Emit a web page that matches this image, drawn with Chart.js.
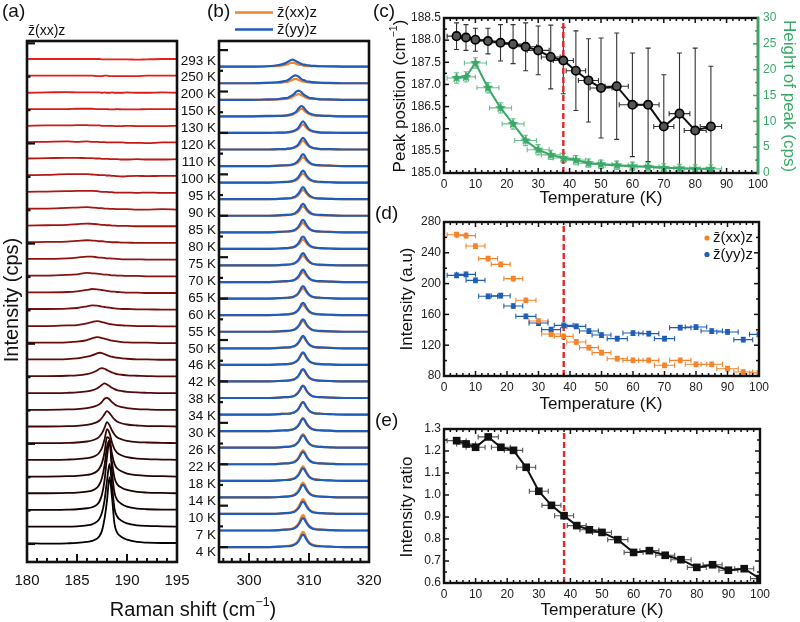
<!DOCTYPE html>
<html><head><meta charset="utf-8">
<script src="https://cdn.jsdelivr.net/npm/chart.js@4.4.0/dist/chart.umd.min.js"></script>
<style>
html,body{margin:0;padding:0;background:#fff;width:800px;height:622px;overflow:hidden}
canvas{position:absolute;left:0;top:0}
</style></head><body>
<canvas id="ca" width="800" height="622"></canvas>
<canvas id="cb" width="800" height="622"></canvas>
<canvas id="cc" width="800" height="622"></canvas>
<canvas id="cd" width="800" height="622"></canvas>
<canvas id="ce" width="800" height="622"></canvas>
<script>
// ================= DATA =================
const temps = [4,7,10,14,18,22,26,30,34,38,42,46,50,55,60,65,70,75,80,85,90,95,100,110,120,130,150,200,250,293];

// panel (a): Raman shift grid (cm-1) and spectra above each baseline (cps), z(xx)z
const ramanA = [180,182,184,185,186,186.5,187,187.25,187.5,187.75,188,188.25,188.5,188.75,189,189.5,190,191,192,193.5,195];
const spectraA = [
 [0.2,0.1,0.2,0.3,0.6,0.9,1.6,2.4,4,7.5,13,20,14,6,3.5,2,1.3,0.6,0.4,0.3,0.3],
 [0.2,0.2,0.2,0.3,0.6,0.9,1.7,2.6,4.4,8,14,19,12.5,5.6,3.3,1.9,1.2,0.6,0.4,0.3,0.2],
 [0.2,0.2,0.3,0.4,0.7,1.0,1.8,2.8,4.8,9,16,21,11.5,5.4,3.3,1.9,1.2,0.6,0.4,0.3,0.3],
 [0.2,0.2,0.3,0.4,0.7,1.0,1.9,2.9,4.8,8.5,14,16,9.5,4.8,3.0,1.8,1.2,0.6,0.4,0.3,0.2],
 [0.2,0.2,0.3,0.4,0.7,1.0,1.8,2.7,4.3,7.4,12,11.5,7,4,2.7,1.7,1.1,0.6,0.4,0.3,0.2],
 [0.2,0.2,0.3,0.4,0.7,1.0,1.7,2.5,3.8,6.2,9.4,8.2,5.4,3.4,2.4,1.5,1.0,0.6,0.4,0.3,0.2],
 [0.2,0.2,0.3,0.4,0.7,1.0,1.6,2.2,3.2,4.8,6.5,5.6,4.0,2.8,2.0,1.3,0.9,0.5,0.4,0.3,0.2],
 [0.2,0.2,0.3,0.4,0.7,1.0,1.5,2.0,2.8,3.9,4.8,4.2,3.2,2.3,1.7,1.1,0.8,0.5,0.3,0.3,0.2],
 [0.2,0.2,0.3,0.4,0.7,1.0,1.5,1.9,2.6,3.5,3.8,3.3,2.5,1.9,1.4,1.0,0.7,0.4,0.3,0.2,0.2],
 [0.2,0.2,0.3,0.4,0.7,1.0,1.6,2.1,2.7,3.1,2.8,2.3,1.8,1.4,1.1,0.8,0.6,0.4,0.3,0.2,0.2],
 [0.3,0.3,0.4,0.5,0.9,1.3,2.0,2.5,2.7,2.5,2.1,1.7,1.4,1.1,0.9,0.7,0.5,0.4,0.3,0.2,0.2],
 [0.3,0.3,0.4,0.6,1.1,1.5,2.1,2.3,2.2,1.9,1.6,1.3,1.1,0.9,0.8,0.6,0.5,0.3,0.3,0.2,0.2],
 [0.3,0.3,0.4,0.6,1.1,1.6,2.0,1.9,1.7,1.5,1.3,1.1,0.9,0.8,0.7,0.5,0.4,0.3,0.3,0.2,0.2],
 [0.3,0.3,0.5,0.6,1.1,1.5,1.8,1.7,1.5,1.3,1.1,0.9,0.8,0.7,0.6,0.5,0.4,0.3,0.3,0.2,0.2],
 [0.4,0.4,0.5,0.7,1.2,1.5,1.4,1.3,1.1,1.0,0.9,0.8,0.7,0.6,0.5,0.4,0.4,0.3,0.3,0.2,0.2],
 [0.4,0.4,0.5,0.7,1.1,1.4,1.3,1.2,1.1,1.0,0.8,0.7,0.6,0.6,0.5,0.4,0.3,0.3,0.2,0.2,0.2],
 [0.4,0.4,0.6,0.8,1.2,1.1,1.0,0.9,0.8,0.7,0.7,0.6,0.5,0.5,0.4,0.4,0.3,0.3,0.2,0.2,0.2],
 [0.4,0.4,0.6,0.8,1.1,1.1,0.9,0.8,0.8,0.7,0.6,0.6,0.5,0.5,0.4,0.3,0.3,0.3,0.2,0.2,0.2],
 [0.4,0.5,0.6,0.8,1.0,0.9,0.8,0.7,0.7,0.6,0.5,0.5,0.4,0.4,0.4,0.3,0.3,0.2,0.2,0.2,0.2],
 [0.4,0.5,0.6,0.8,1.0,0.9,0.8,0.7,0.6,0.6,0.5,0.5,0.4,0.4,0.3,0.3,0.3,0.2,0.2,0.2,0.2],
 [0.5,0.5,0.7,0.8,0.9,0.8,0.7,0.6,0.6,0.5,0.5,0.4,0.4,0.4,0.3,0.3,0.3,0.2,0.2,0.3,0.2],
 [0.5,0.6,0.7,0.8,0.8,0.8,0.7,0.6,0.5,0.5,0.5,0.4,0.4,0.3,0.3,0.3,0.3,0.2,0.3,0.2,0.2],
 [0.5,0.6,0.8,0.8,0.8,0.7,0.6,0.5,0.5,0.5,0.4,0.4,0.3,0.3,0.2,0.1,0.2,0.3,0.2,0.3,0.3],
 [0.5,0.6,0.7,0.7,0.6,0.6,0.5,0.5,0.4,0.4,0.4,0.3,0.3,0.3,0.3,0.2,0.2,0.3,0.2,0.2,0.3],
 [0.4,0.5,0.6,0.5,0.6,0.5,0.5,0.4,0.4,0.4,0.3,0.3,0.3,0.3,0.3,0.3,0.2,0.2,0.1,0.3,0.3],
 [0.3,0.4,0.4,0.5,0.5,0.4,0.4,0.4,0.3,0.3,0.3,0.3,0.3,0.2,0.2,0.2,0.3,0.2,0.2,0.2,0.3],
 [0.3,0.3,0.3,0.4,0.4,0.4,0.3,0.3,0.3,0.3,0.3,0.2,0.2,0.2,0.3,0.2,0.2,0.2,0.3,0.3,0.3],
 [0.2,0.3,0.4,0.3,0.3,0.3,0.3,0.3,0.2,0.3,0.2,0.2,0.3,0.2,0.2,0.2,0.3,0.2,0.2,0.3,0.2],
 [0.3,0.3,0.3,0.3,0.3,0.3,0.2,0.2,0.2,0.3,0.3,0.2,0.2,0.2,0.2,0.2,0.2,0.2,0.3,0.3,0.3],
 [0.3,0.3,0.3,0.3,0.3,0.3,0.3,0.3,0.2,0.2,0.2,0.2,0.2,0.2,0.2,0.2,0.2,0.1,0.2,0.3,0.3]
];

// panel (b): Raman shift grid and spectra above each baseline
const ramanB = [295,300,303,305,306,306.5,307,307.25,307.5,307.75,308,308.25,308.5,308.75,309,309.25,309.5,310,310.5,311,312,313.5,316,320];
const spectraXXb = [
 [0,0,0,0.1,0.2,0.3,0.4,0.5,0.7,0.9,1.2,1.7,2.4,3.3,3.7,3.3,2.4,1.2,0.7,0.4,0.2,0.1,0,0],
 [0,0,0,0.1,0.2,0.3,0.4,0.5,0.7,0.9,1.2,1.7,2.4,3.3,3.7,3.3,2.4,1.2,0.7,0.4,0.2,0.1,0,0],
 [0,0,0,0.1,0.2,0.3,0.4,0.5,0.6,0.9,1.2,1.7,2.4,3.2,3.6,3.2,2.4,1.2,0.6,0.4,0.2,0.1,0,0],
 [0,0,0,0.1,0.2,0.3,0.4,0.5,0.6,0.9,1.2,1.7,2.4,3.2,3.6,3.2,2.4,1.2,0.6,0.4,0.2,0.1,0,0],
 [0,0,0,0.1,0.2,0.3,0.4,0.5,0.6,0.8,1.2,1.6,2.3,3.1,3.5,3.1,2.3,1.2,0.6,0.4,0.2,0.1,0,0],
 [0,0,0,0.1,0.2,0.2,0.4,0.5,0.6,0.8,1.1,1.6,2.3,3.0,3.4,3.0,2.3,1.1,0.6,0.4,0.2,0.1,0,0],
 [0,0,0,0.1,0.2,0.2,0.4,0.5,0.6,0.8,1.1,1.5,2.2,2.9,3.3,2.9,2.2,1.1,0.6,0.4,0.2,0.1,0,0],
 [0,0,0,0.1,0.2,0.2,0.3,0.4,0.6,0.8,1.1,1.5,2.1,2.8,3.2,2.8,2.1,1.1,0.6,0.3,0.2,0.1,0,0],
 [0,0,0,0.1,0.2,0.2,0.3,0.4,0.5,0.7,1.0,1.4,2.0,2.7,3.0,2.7,2.0,1.0,0.5,0.3,0.2,0.1,0,0],
 [0,0,0,0.1,0.2,0.2,0.3,0.4,0.5,0.7,1.0,1.4,1.9,2.6,2.9,2.6,1.9,1.0,0.5,0.3,0.2,0.1,0,0],
 [0,0,0,0.1,0.1,0.2,0.3,0.4,0.5,0.7,0.9,1.3,1.9,2.5,2.8,2.5,1.9,0.9,0.5,0.3,0.1,0.1,0,0],
 [0,0,0,0.1,0.1,0.2,0.3,0.4,0.5,0.7,0.9,1.3,1.9,2.5,2.8,2.5,1.9,0.9,0.5,0.3,0.1,0.1,0,0],
 [0,0,0,0.1,0.1,0.2,0.3,0.4,0.5,0.6,0.9,1.3,1.8,2.4,2.7,2.4,1.8,0.9,0.5,0.3,0.1,0.1,0,0],
 [0,0,0,0.1,0.1,0.2,0.3,0.4,0.5,0.6,0.9,1.2,1.7,2.3,2.6,2.3,1.7,0.9,0.5,0.3,0.1,0.1,0,0],
 [0,0,0,0.1,0.1,0.2,0.3,0.3,0.4,0.6,0.8,1.2,1.7,2.2,2.5,2.2,1.7,0.8,0.4,0.3,0.1,0.1,0,0],
 [0,0,0,0.1,0.1,0.2,0.3,0.3,0.4,0.6,0.8,1.2,1.7,2.2,2.5,2.2,1.7,0.8,0.4,0.3,0.1,0.1,0,0],
 [0,0,0,0.1,0.1,0.2,0.3,0.3,0.4,0.6,0.8,1.1,1.6,2.1,2.4,2.1,1.6,0.8,0.4,0.3,0.1,0.1,0,0],
 [0,0,0,0.1,0.1,0.2,0.3,0.3,0.4,0.6,0.8,1.1,1.6,2.1,2.4,2.1,1.6,0.8,0.4,0.3,0.1,0.1,0,0],
 [0,0,0,0.1,0.1,0.2,0.3,0.3,0.4,0.5,0.8,1.1,1.5,2.0,2.3,2.0,1.5,0.8,0.4,0.3,0.1,0.1,0,0],
 [0,0,0,0.1,0.1,0.2,0.3,0.3,0.4,0.5,0.8,1.1,1.5,2.0,2.3,2.0,1.5,0.8,0.4,0.3,0.1,0.1,0,0],
 [0,0,0,0.1,0.1,0.2,0.2,0.3,0.4,0.5,0.7,1.0,1.5,2.0,2.2,2.0,1.5,0.7,0.4,0.2,0.1,0.1,0,0],
 [0,0,0,0.1,0.1,0.2,0.2,0.3,0.4,0.5,0.7,1.0,1.5,2.0,2.2,2.0,1.5,0.7,0.4,0.2,0.1,0.1,0,0],
 [0,0,0,0.1,0.1,0.2,0.2,0.3,0.4,0.5,0.7,1.0,1.5,2.0,2.2,2.0,1.5,0.7,0.4,0.2,0.1,0.1,0,0],
 [0,0,0,0.1,0.1,0.2,0.2,0.3,0.4,0.5,0.7,1.0,1.4,1.9,2.1,1.9,1.4,0.7,0.4,0.2,0.1,0.1,0,0],
 [0,0,0,0.1,0.1,0.2,0.2,0.3,0.4,0.5,0.7,1.0,1.4,1.9,2.1,1.9,1.4,0.7,0.4,0.2,0.1,0.1,0,0],
 [0,0,0,0.1,0.1,0.1,0.2,0.3,0.4,0.5,0.7,0.9,1.3,1.8,2.0,1.8,1.3,0.7,0.4,0.2,0.1,0,0,0],
 [0,0,0,0.1,0.2,0.2,0.3,0.4,0.6,0.8,1.0,1.3,1.7,1.8,1.7,1.3,1.0,0.6,0.3,0.2,0.1,0.1,0,0],
 [0,0,0,0.1,0.2,0.3,0.5,0.7,0.9,1.1,1.3,1.4,1.3,1.1,0.9,0.7,0.5,0.3,0.2,0.2,0.1,0,0,0],
 [0,0,0.1,0.1,0.3,0.4,0.7,0.8,1.0,1.0,1.0,0.8,0.7,0.5,0.4,0.4,0.3,0.2,0.1,0.1,0.1,0,0,0],
 [0,0,0.1,0.2,0.4,0.6,0.9,0.9,0.9,0.8,0.6,0.5,0.4,0.4,0.3,0.2,0.2,0.1,0.1,0.1,0.1,0,0,0]
];
const spectraYYb = [
 [0,0,0,0.1,0.2,0.2,0.3,0.4,0.5,0.7,1.0,1.4,2.0,2.7,3.0,2.7,2.0,1.0,0.5,0.3,0.2,0.1,0,0],
 [0,0,0,0.1,0.2,0.2,0.3,0.4,0.5,0.7,1.0,1.4,2.0,2.7,3.0,2.7,2.0,1.0,0.5,0.3,0.2,0.1,0,0],
 [0,0,0,0.1,0.2,0.2,0.3,0.4,0.5,0.7,1.0,1.4,2.0,2.7,3.0,2.7,2.0,1.0,0.5,0.3,0.2,0.1,0,0],
 [0,0,0,0.1,0.2,0.2,0.3,0.4,0.5,0.7,1.0,1.4,2.0,2.7,3.0,2.7,2.0,1.0,0.5,0.3,0.2,0.1,0,0],
 [0,0,0,0.1,0.2,0.2,0.3,0.4,0.5,0.7,1.0,1.4,2.0,2.7,3.0,2.7,2.0,1.0,0.5,0.3,0.2,0.1,0,0],
 [0,0,0,0.1,0.2,0.2,0.3,0.4,0.5,0.7,1.0,1.4,2.0,2.7,3.0,2.7,2.0,1.0,0.5,0.3,0.2,0.1,0,0],
 [0,0,0,0.1,0.2,0.2,0.3,0.4,0.5,0.7,1.0,1.4,2.0,2.7,3.0,2.7,2.0,1.0,0.5,0.3,0.2,0.1,0,0],
 [0,0,0,0.1,0.2,0.2,0.3,0.4,0.5,0.7,1.0,1.4,2.0,2.7,3.0,2.7,2.0,1.0,0.5,0.3,0.2,0.1,0,0],
 [0,0,0,0.1,0.2,0.2,0.3,0.4,0.5,0.7,1.0,1.4,2.0,2.7,3.0,2.7,2.0,1.0,0.5,0.3,0.2,0.1,0,0],
 [0,0,0,0.1,0.2,0.2,0.3,0.4,0.5,0.7,1.0,1.4,2.0,2.7,3.0,2.7,2.0,1.0,0.5,0.3,0.2,0.1,0,0],
 [0,0,0,0.1,0.2,0.2,0.3,0.4,0.5,0.7,1.0,1.4,2.0,2.7,3.0,2.7,2.0,1.0,0.5,0.3,0.2,0.1,0,0],
 [0,0,0,0.1,0.2,0.2,0.3,0.4,0.5,0.7,1.0,1.4,2.0,2.7,3.0,2.7,2.0,1.0,0.5,0.3,0.2,0.1,0,0],
 [0,0,0,0.1,0.2,0.2,0.3,0.4,0.5,0.7,1.0,1.4,2.0,2.7,3.0,2.7,2.0,1.0,0.5,0.3,0.2,0.1,0,0],
 [0,0,0,0.1,0.2,0.2,0.3,0.4,0.5,0.7,1.0,1.4,2.0,2.7,3.0,2.7,2.0,1.0,0.5,0.3,0.2,0.1,0,0],
 [0,0,0,0.1,0.2,0.2,0.3,0.4,0.5,0.7,1.0,1.4,2.0,2.7,3.0,2.7,2.0,1.0,0.5,0.3,0.2,0.1,0,0],
 [0,0,0,0.1,0.2,0.2,0.3,0.4,0.5,0.7,1.0,1.4,2.0,2.7,3.0,2.7,2.0,1.0,0.5,0.3,0.2,0.1,0,0],
 [0,0,0,0.1,0.2,0.2,0.3,0.4,0.5,0.7,1.0,1.4,2.0,2.7,3.0,2.7,2.0,1.0,0.5,0.3,0.2,0.1,0,0],
 [0,0,0,0.1,0.2,0.2,0.3,0.4,0.5,0.7,1.0,1.4,2.0,2.7,3.0,2.7,2.0,1.0,0.5,0.3,0.2,0.1,0,0],
 [0,0,0,0.1,0.2,0.2,0.3,0.4,0.5,0.7,1.0,1.4,2.0,2.7,3.0,2.7,2.0,1.0,0.5,0.3,0.2,0.1,0,0],
 [0,0,0,0.1,0.2,0.2,0.3,0.4,0.5,0.7,1.0,1.4,2.0,2.7,3.0,2.7,2.0,1.0,0.5,0.3,0.2,0.1,0,0],
 [0,0,0,0.1,0.2,0.2,0.3,0.4,0.5,0.7,1.0,1.4,1.9,2.6,2.9,2.6,1.9,1.0,0.5,0.3,0.2,0.1,0,0],
 [0,0,0,0.1,0.2,0.2,0.3,0.4,0.5,0.7,1.0,1.4,1.9,2.6,2.9,2.6,1.9,1.0,0.5,0.3,0.2,0.1,0,0],
 [0,0,0,0.1,0.2,0.2,0.3,0.4,0.5,0.7,1.0,1.4,1.9,2.6,2.9,2.6,1.9,1.0,0.5,0.3,0.2,0.1,0,0],
 [0,0,0,0.1,0.2,0.2,0.3,0.4,0.5,0.7,1.0,1.4,1.9,2.6,2.9,2.6,1.9,1.0,0.5,0.3,0.2,0.1,0,0],
 [0,0,0,0.1,0.1,0.2,0.3,0.4,0.5,0.7,0.9,1.3,1.9,2.5,2.8,2.5,1.9,0.9,0.5,0.3,0.1,0.1,0,0],
 [0,0,0,0.1,0.1,0.2,0.3,0.4,0.5,0.7,0.9,1.3,1.9,2.5,2.8,2.5,1.9,0.9,0.5,0.3,0.1,0.1,0,0],
 [0,0,0.1,0.1,0.2,0.3,0.5,0.6,0.8,1.0,1.4,1.9,2.3,2.5,2.3,1.9,1.4,0.8,0.5,0.3,0.2,0.1,0,0],
 [0,0,0.1,0.2,0.4,0.5,0.9,1.1,1.4,1.8,2.1,2.2,2.1,1.8,1.4,1.1,0.9,0.5,0.4,0.3,0.1,0.1,0,0],
 [0,0,0.1,0.3,0.5,0.8,1.3,1.6,1.8,1.9,1.8,1.6,1.3,1.0,0.8,0.7,0.5,0.4,0.3,0.2,0.1,0.1,0,0],
 [0,0,0.1,0.4,0.8,1.2,1.6,1.7,1.6,1.4,1.2,1.0,0.8,0.7,0.5,0.5,0.4,0.3,0.2,0.2,0.1,0.1,0,0]
];
const ticksA = [180,185,190,195];
const ticksB = [300,310,320];

// panel (c)
const tempC = [4,7,10,14,18,22,26,30,34,38,42,46,50,55,60,65,70,75,80,85];
const tempErrC = [3,3,3.5,3.5,3.5,3.5,3.5,3.5,3,3.2,3.1,3.2,3.5,3.7,4.2,3.5,3.2,3.3,3.5,3.4];
const peakPos = [188.09,188.06,188.01,187.98,187.94,187.91,187.85,187.77,187.62,187.54,187.31,187.09,186.92,186.96,186.54,186.54,186.05,186.34,185.96,186.05];
const peakPosErr = [0.30,0.29,0.26,0.29,0.41,0.44,0.54,0.55,0.72,0.75,0.90,0.94,1.13,1.20,1.17,1.28,1.17,1.37,1.86,1.36];
const peakHeight = [18.4,18.6,21.3,16.5,12.6,9.5,6.3,4.5,3.5,2.9,2.5,1.9,1.7,1.5,1.3,1.2,1.0,0.9,0.8,0.8];
const peakHeightErr = [1.0,1.0,1.0,1.0,1.0,1.0,1.0,1.0,0.9,0.9,0.9,0.8,0.8,0.8,0.8,0.8,0.8,0.8,0.8,0.8];
const ticksT = [0,10,20,30,40,50,60,70,80,90,100];
const ticksPos = [185.0,185.5,186.0,186.5,187.0,187.5,188.0,188.5];
const ticksHeight = [0,5,10,15,20,25,30];

// panel (d)
const tempD = [4,7,10,14,18,22,26,30,34,38,42,46,50,55,60,65,70,75,80,85,90,95,100];
const tempErrD = [3,3,3,3,3,3,3.2,3,3,3,3,3,3,3.2,3.2,3.2,3.2,3.4,3.4,3.4,3.4,3,3];
const intensityXX = [263.5,262.3,248.8,232.4,225,206.4,178.3,151.4,134.5,131.5,124.2,116.8,110.3,102.5,100.3,100.3,93.9,100.3,95.2,95.2,89.5,85.2,84];
const intensityYY = [210.7,212,204.2,183.5,184.3,170.9,157.5,148.8,140.2,145.8,144.5,138.4,133.2,128.5,135.8,135,128.5,142.8,143.6,138.4,137.2,127.2,134.1];
const intensityErr = [3,3,3,3,3,3,3,3,3,3,3,3,3,3,3,3,3,3,3,3,3,3,3];
const ticksInt = [80,120,160,200,240,280];

// panel (e)
const ratio = [1.247,1.232,1.217,1.264,1.217,1.203,1.126,1.017,0.953,0.906,0.861,0.842,0.830,0.797,0.739,0.747,0.726,0.706,0.671,0.683,0.658,0.665,0.620];
const tempErrE = [3,3,3,3.2,3,2.9,3,3,3,3,3,3,3,3.2,3,3,3,3.2,3,3,3,3,3];
const ticksRatio = [0.6,0.7,0.8,0.9,1.0,1.1,1.2,1.3];

const transitionT = 38;

// ================= STYLE / LAYOUT =================
const FONT = "'Liberation Sans', Arial, Helvetica, sans-serif";
Chart.defaults.font.family = FONT;
Chart.defaults.color = '#111';
const GREEN = '#3aa968', ORANGE = '#f5832b', BLUE = '#1f5db8', RED = '#e3262b';
const OFFSET_A = 5, OFFSET_B = 4;
const LABEL_STEP = 4.09, LABEL_BASE = -1.2;
const ZBAR = 'z\u0304';
const DASH = [6, 3];

function colorA(i){
  const t = i/(temps.length-1);
  const r = Math.round(232*Math.pow(t,0.9)), g = Math.round(32*t), b = Math.round(28*t);
  return `rgb(${r},${g},${b})`;
}

function richText(ctx, parts, x, y, size, color, align, rot){
  ctx.save();
  ctx.translate(x, y); ctx.rotate(rot || 0);
  ctx.fillStyle = color || '#111';
  ctx.textBaseline = 'middle'; ctx.textAlign = 'left';
  const segs = (typeof parts === 'string') ? [{t: parts}] : parts.map(p => typeof p === 'string' ? {t:p} : p);
  let w = 0;
  segs.forEach(s => { ctx.font = (s.sup ? size*0.62 : size) + 'px ' + FONT; s.w = ctx.measureText(s.t).width; w += s.w; });
  let cx = align === 'left' ? 0 : (align === 'right' ? -w : -w/2);
  segs.forEach(s => { ctx.font = (s.sup ? size*0.62 : size) + 'px ' + FONT; ctx.fillText(s.t, cx, s.sup ? -size*0.36 : 0); cx += s.w; });
  ctx.restore();
}

let pid = 0;
function framePlugin(cfg){
  return { id: 'frame' + (pid++), afterDatasetsDraw(chart){
    const {ctx, chartArea: a} = chart;
    ctx.save();
    cfg.ticks.forEach(t => {
      const sc = chart.scales[t.scale];
      ctx.strokeStyle = t.color || '#111'; ctx.lineWidth = t.lw || 1.5;
      const n = Math.round(t.major / t.minor);
      const kmin = Math.ceil((sc.min - t.anchor)/t.minor - 1e-6), kmax = Math.floor((sc.max - t.anchor)/t.minor + 1e-6);
      for (let k = kmin; k <= kmax; k++){
        const v = t.anchor + k*t.minor;
        const len = (((k % n) + n) % n === 0) ? t.lenMajor : t.lenMinor;
        const p = sc.getPixelForValue(v);
        t.sides.forEach(side => {
          ctx.beginPath();
          if (side === 'bottom'){ ctx.moveTo(p, a.bottom); ctx.lineTo(p, a.bottom - len); }
          else if (side === 'top'){ ctx.moveTo(p, a.top); ctx.lineTo(p, a.top + len); }
          else if (side === 'left'){ ctx.moveTo(a.left, p); ctx.lineTo(a.left + len, p); }
          else { ctx.moveTo(a.right, p); ctx.lineTo(a.right - len, p); }
          ctx.stroke();
        });
      }
    });
    ctx.lineWidth = cfg.frame; ctx.strokeStyle = '#111';
    ctx.strokeRect(a.left, a.top, a.right - a.left, a.bottom - a.top);
    if (cfg.rightColor){
      ctx.strokeStyle = cfg.rightColor; ctx.beginPath();
      ctx.moveTo(a.right, a.top - cfg.frame/2); ctx.lineTo(a.right, a.bottom + cfg.frame/2); ctx.stroke();
    }
    ctx.restore();
  }};
}

function errorPlugin(){
  return { id: 'err' + (pid++), beforeDatasetsDraw(chart){
    const {ctx, chartArea: a} = chart;
    ctx.save();
    ctx.beginPath(); ctx.rect(a.left, a.top, a.right - a.left, a.bottom - a.top); ctx.clip();
    chart.data.datasets.forEach((ds, i) => {
      if (!ds.errX && !ds.errY) return;
      const meta = chart.getDatasetMeta(i);
      const xs = chart.scales[meta.xAxisID], ys = chart.scales[meta.yAxisID];
      ctx.strokeStyle = ds.errColor || '#333'; ctx.lineWidth = ds.errWidth || 1.1;
      const cap = ds.errCap || 2.5;
      ds.data.forEach((pt, j) => {
        const x = xs.getPixelForValue(pt.x), y = ys.getPixelForValue(pt.y);
        ctx.beginPath();
        if (ds.errY){
          const y1 = ys.getPixelForValue(pt.y + ds.errY[j]), y2 = ys.getPixelForValue(pt.y - ds.errY[j]);
          ctx.moveTo(x, y1); ctx.lineTo(x, y2);
          ctx.moveTo(x - cap, y1); ctx.lineTo(x + cap, y1);
          ctx.moveTo(x - cap, y2); ctx.lineTo(x + cap, y2);
        }
        if (ds.errX){
          const x1 = xs.getPixelForValue(pt.x - ds.errX[j]), x2 = xs.getPixelForValue(pt.x + ds.errX[j]);
          ctx.moveTo(x1, y); ctx.lineTo(x2, y);
          ctx.moveTo(x1, y - cap); ctx.lineTo(x1, y + cap);
          ctx.moveTo(x2, y - cap); ctx.lineTo(x2, y + cap);
        }
        ctx.stroke();
      });
    });
    ctx.restore();
  }};
}

function textPlugin(fn){ return { id: 'txt' + (pid++), afterDraw(chart){ fn(chart, chart.ctx); } }; }

function starImg(color, r){
  const c = document.createElement('canvas'); const s = Math.ceil(r*2 + 2); c.width = c.height = s;
  const g = c.getContext('2d'); g.fillStyle = color; g.beginPath();
  for (let k = 0; k < 10; k++){
    const ang = -Math.PI/2 + k*Math.PI/5; const rr = (k % 2) ? r*0.45 : r;
    g.lineTo(s/2 + rr*Math.cos(ang), s/2 + rr*Math.sin(ang));
  }
  g.closePath(); g.fill(); return c;
}

const baseOpts = (pad) => ({
  responsive: false, animation: false, devicePixelRatio: 1,
  layout: { padding: pad },
  plugins: { legend: { display: false }, tooltip: { enabled: false } }
});
const hideGrid = { display: false, drawTicks: false };
const setTicks = arr => (s => { s.ticks = arr.map(v => ({ value: v })); });

// ================= PANEL (a) =================
new Chart(document.getElementById('ca'), {
  type: 'line',
  data: { datasets: temps.map((T, i) => ({
    label: T + ' K',
    data: ramanA.map((x, j) => ({ x, y: spectraA[i][j] + OFFSET_A*i })),
    borderColor: colorA(i), borderWidth: 1.8, pointRadius: 0, cubicInterpolationMode: 'monotone', fill: false
  })).reverse() },
  options: Object.assign(baseOpts({ left: 27, top: 41, right: 623, bottom: 30 }), {
    scales: {
      x: { type: 'linear', min: 180, max: 195, afterBuildTicks: setTicks(ticksA), afterFit: s => { s.height = 30; },
           grid: hideGrid, border: { display: false }, ticks: { font: { size: 15 }, padding: 10, color: '#111', autoSkip: false, maxRotation: 0 } },
      y: { type: 'linear', display: false, min: -5.4, max: 150.7 }
    }
  }),
  plugins: [
    framePlugin({ frame: 2.6, ticks: [
      { scale: 'x', anchor: 180, minor: 1, major: 5, lenMajor: 8, lenMinor: 4, sides: ['bottom'], lw: 2 },
      { scale: 'y', anchor: 0, minor: 10, major: 30, lenMajor: 8, lenMinor: 3.5, sides: ['left'], lw: 2.2 }
    ]}),
    textPlugin((chart, ctx) => {
      richText(ctx, '(a)', 2, 12, 19, '#111', 'left');
      richText(ctx, ZBAR + '(xx)z', 28, 31, 14, '#111', 'left');
      richText(ctx, '(b)', 207, 12, 19, '#111', 'left');
      richText(ctx, '(c)', 373, 12, 19, '#111', 'left');
      richText(ctx, '(d)', 375, 214, 19, '#111', 'left');
      richText(ctx, '(e)', 375, 421, 19, '#111', 'left');
      richText(ctx, 'Intensity (cps)', 12, 300, 20, '#111', 'center', -Math.PI/2);
      richText(ctx, ['Raman shift (cm', {t:'\u22121', sup:true}, ')'], 193, 610, 20, '#111', 'center');
    })
  ]
});

// ================= PANEL (b) =================
const dsB = [];
temps.forEach((T, i) => {
  dsB.push({ label: T + ' K xx', data: ramanB.map((x, j) => ({ x, y: spectraXXb[i][j] + OFFSET_B*i })),
    borderColor: ORANGE, borderWidth: 2.2, pointRadius: 0, cubicInterpolationMode: 'monotone', fill: false, order: 2 });
  dsB.push({ label: T + ' K yy', data: ramanB.map((x, j) => ({ x, y: spectraYYb[i][j] + OFFSET_B*i })),
    borderColor: BLUE, borderWidth: 2.2, pointRadius: 0, cubicInterpolationMode: 'monotone', fill: false, order: 1 });
});
new Chart(document.getElementById('cb'), {
  type: 'line',
  data: { datasets: dsB },
  options: Object.assign(baseOpts({ left: 219, top: 41, right: 431, bottom: 30 }), {
    scales: {
      x: { type: 'linear', min: 295, max: 320, afterBuildTicks: setTicks(ticksB), afterFit: s => { s.height = 30; },
           grid: hideGrid, border: { display: false }, ticks: { font: { size: 15 }, padding: 10, color: '#111', autoSkip: false, maxRotation: 0 } },
      y: { type: 'linear', display: false, min: -3.6, max: 122.2 }
    }
  }),
  plugins: [
    framePlugin({ frame: 2.6, ticks: [
      { scale: 'x', anchor: 300, minor: 10/7, major: 10, lenMajor: 9, lenMinor: 4, sides: ['bottom'], lw: 2 },
      { scale: 'y', anchor: 0, minor: 5, major: 10, lenMajor: 9, lenMinor: 4, sides: ['left'], lw: 2.2 }
    ]}),
    textPlugin((chart, ctx) => {
      const ys = chart.scales.y, a = chart.chartArea;
      temps.forEach((T, i) => {
        richText(ctx, T + ' K', a.left - 3, ys.getPixelForValue(i*LABEL_STEP + LABEL_BASE), 13.5, '#111', 'right');
      });
      ctx.save(); ctx.lineWidth = 2.5;
      ctx.strokeStyle = ORANGE; ctx.beginPath(); ctx.moveTo(235, 12.5); ctx.lineTo(273, 12.5); ctx.stroke();
      ctx.strokeStyle = BLUE; ctx.beginPath(); ctx.moveTo(235, 29.5); ctx.lineTo(273, 29.5); ctx.stroke();
      ctx.restore();
      richText(ctx, ZBAR + '(xx)z', 277, 13, 15, '#111', 'left');
      richText(ctx, ZBAR + '(yy)z', 277, 30, 15, '#111', 'left');
    })
  ]
});

// ================= PANEL (c) =================
const star = starImg(GREEN, 5.6);
new Chart(document.getElementById('cc'), {
  type: 'line',
  data: { datasets: [
    { label: 'Peak position', data: tempC.map((t, i) => ({ x: t, y: peakPos[i] })), yAxisID: 'y',
      borderColor: '#111', borderWidth: 2, pointRadius: 4.2, pointBackgroundColor: '#555', pointBorderColor: '#000', pointBorderWidth: 1.7,
      errX: tempErrC, errY: peakPosErr, errColor: '#333', errWidth: 1.1 },
    { label: 'Height of peak', data: tempC.map((t, i) => ({ x: t, y: peakHeight[i] })), yAxisID: 'y2',
      borderColor: GREEN, borderWidth: 2, pointRadius: 4, pointStyle: star,
      errX: tempErrC, errY: peakHeightErr, errColor: '#6cc08f', errWidth: 1.1 },
    { label: 'Tc', data: [{ x: transitionT, y: 185 }, { x: transitionT, y: 188.5 }], yAxisID: 'y',
      borderColor: RED, borderWidth: 2.4, borderDash: DASH, pointRadius: 0 }
  ]},
  options: Object.assign(baseOpts({ left: 404, top: 18, right: 22, bottom: 431 }), {
    scales: {
      x: { type: 'linear', min: 0, max: 100, afterBuildTicks: setTicks(ticksT), afterFit: s => { s.height = 18; },
           grid: hideGrid, border: { display: false }, ticks: { font: { size: 12 }, padding: 4, color: '#222', autoSkip: false, maxRotation: 0 } },
      y: { type: 'linear', position: 'left', min: 185, max: 188.5, afterBuildTicks: setTicks(ticksPos), afterFit: s => { s.width = 40; },
           grid: hideGrid, border: { display: false }, ticks: { font: { size: 12 }, padding: 3, color: '#222', autoSkip: false, callback: v => v.toFixed(1) } },
      y2: { type: 'linear', position: 'right', min: 0, max: 30, afterBuildTicks: setTicks(ticksHeight), afterFit: s => { s.width = 20; },
           grid: hideGrid, border: { display: false }, ticks: { font: { size: 12 }, padding: 5, color: GREEN, autoSkip: false } }
    }
  }),
  plugins: [
    errorPlugin(),
    framePlugin({ frame: 2.4, rightColor: GREEN, ticks: [
      { scale: 'x', anchor: 0, minor: 2, major: 10, lenMajor: 5, lenMinor: 3, sides: ['bottom', 'top'] },
      { scale: 'y', anchor: 185, minor: 0.25, major: 0.5, lenMajor: 5, lenMinor: 3, sides: ['left'] },
      { scale: 'y2', anchor: 0, minor: 2.5, major: 5, lenMajor: 5, lenMinor: 3, sides: ['right'], color: GREEN }
    ]}),
    textPlugin((chart, ctx) => {
      richText(ctx, ['Peak position (cm', {t:'\u22121', sup:true}, ')'], 400, 96, 17, '#111', 'center', -Math.PI/2);
      richText(ctx, 'Height of peak (cps)', 789, 96, 17, GREEN, 'center', Math.PI/2);
      richText(ctx, 'Temperature (K)', 601, 198, 17, '#111', 'center');
    })
  ]
});

// ================= PANEL (d) =================
new Chart(document.getElementById('cd'), {
  type: 'line',
  data: { datasets: [
    { label: 'xx', data: tempD.map((t, i) => ({ x: t, y: intensityXX[i] })), showLine: false,
      pointRadius: 2.6, pointBackgroundColor: ORANGE, pointBorderColor: ORANGE, pointBorderWidth: 0,
      errX: tempErrD, errY: intensityErr, errColor: ORANGE, errWidth: 1.1 },
    { label: 'yy', data: tempD.map((t, i) => ({ x: t, y: intensityYY[i] })), showLine: false,
      pointRadius: 2.6, pointBackgroundColor: BLUE, pointBorderColor: BLUE, pointBorderWidth: 0,
      errX: tempErrD, errY: intensityErr, errColor: BLUE, errWidth: 1.1 },
    { label: 'Tc', data: [{ x: transitionT, y: 80 }, { x: transitionT, y: 280 }],
      borderColor: RED, borderWidth: 2.4, borderDash: DASH, pointRadius: 0 }
  ]},
  options: Object.assign(baseOpts({ left: 404, top: 222, right: 41, bottom: 228 }), {
    scales: {
      x: { type: 'linear', min: 0, max: 100, afterBuildTicks: setTicks(ticksT), afterFit: s => { s.height = 18; },
           grid: hideGrid, border: { display: false }, ticks: { font: { size: 12 }, padding: 4, color: '#222', autoSkip: false, maxRotation: 0 } },
      y: { type: 'linear', min: 80, max: 280, afterBuildTicks: setTicks(ticksInt), afterFit: s => { s.width = 40; },
           grid: hideGrid, border: { display: false }, ticks: { font: { size: 12 }, padding: 3, color: '#222', autoSkip: false } }
    }
  }),
  plugins: [
    errorPlugin(),
    framePlugin({ frame: 2.4, ticks: [
      { scale: 'x', anchor: 0, minor: 2, major: 10, lenMajor: 5, lenMinor: 3, sides: ['bottom', 'top'] },
      { scale: 'y', anchor: 80, minor: 20, major: 40, lenMajor: 5, lenMinor: 3, sides: ['left', 'right'] }
    ]}),
    textPlugin((chart, ctx) => {
      richText(ctx, 'Intensity (a.u)', 407, 299, 17, '#111', 'center', -Math.PI/2);
      richText(ctx, 'Temperature (K)', 601, 404, 17, '#111', 'center');
      ctx.save();
      ctx.fillStyle = ORANGE; ctx.beginPath(); ctx.arc(707, 238, 2.6, 0, Math.PI*2); ctx.fill();
      ctx.fillStyle = BLUE; ctx.beginPath(); ctx.arc(707, 254.5, 2.6, 0, Math.PI*2); ctx.fill();
      ctx.restore();
      richText(ctx, ZBAR + '(xx)z', 713, 238, 15, '#111', 'left');
      richText(ctx, ZBAR + '(yy)z', 713, 255, 15, '#111', 'left');
    })
  ]
});

// ================= PANEL (e) =================
new Chart(document.getElementById('ce'), {
  type: 'line',
  data: { datasets: [
    { label: 'ratio', data: tempD.map((t, i) => ({ x: t, y: ratio[i] })),
      borderColor: '#111', borderWidth: 2, pointStyle: 'rect', pointRadius: 5.4, pointBackgroundColor: '#111', pointBorderColor: '#111', pointBorderWidth: 0,
      errX: tempErrE, errColor: '#555', errWidth: 1.1 },
    { label: 'Tc', data: [{ x: transitionT, y: 0.6 }, { x: transitionT, y: 1.3 }],
      borderColor: RED, borderWidth: 2.4, borderDash: DASH, pointRadius: 0 }
  ]},
  options: Object.assign(baseOpts({ left: 404, top: 429, right: 40, bottom: 21 }), {
    scales: {
      x: { type: 'linear', min: 0, max: 100, afterBuildTicks: setTicks(ticksT), afterFit: s => { s.height = 18; },
           grid: hideGrid, border: { display: false }, ticks: { font: { size: 12 }, padding: 4, color: '#222', autoSkip: false, maxRotation: 0 } },
      y: { type: 'linear', min: 0.6, max: 1.3, afterBuildTicks: setTicks(ticksRatio), afterFit: s => { s.width = 40; },
           grid: hideGrid, border: { display: false }, ticks: { font: { size: 12 }, padding: 3, color: '#222', autoSkip: false, callback: v => v.toFixed(1) } }
    }
  }),
  plugins: [
    errorPlugin(),
    framePlugin({ frame: 2.4, ticks: [
      { scale: 'x', anchor: 0, minor: 2, major: 10, lenMajor: 5, lenMinor: 3, sides: ['bottom', 'top'] },
      { scale: 'y', anchor: 0.6, minor: 0.05, major: 0.1, lenMajor: 5, lenMinor: 3, sides: ['left', 'right'] }
    ]}),
    textPlugin((chart, ctx) => {
      richText(ctx, 'Intensity ratio', 407, 507, 17, '#111', 'center', -Math.PI/2);
      richText(ctx, 'Temperature (K)', 602, 610, 17, '#111', 'center');
    })
  ]
});
</script>
</body></html>
